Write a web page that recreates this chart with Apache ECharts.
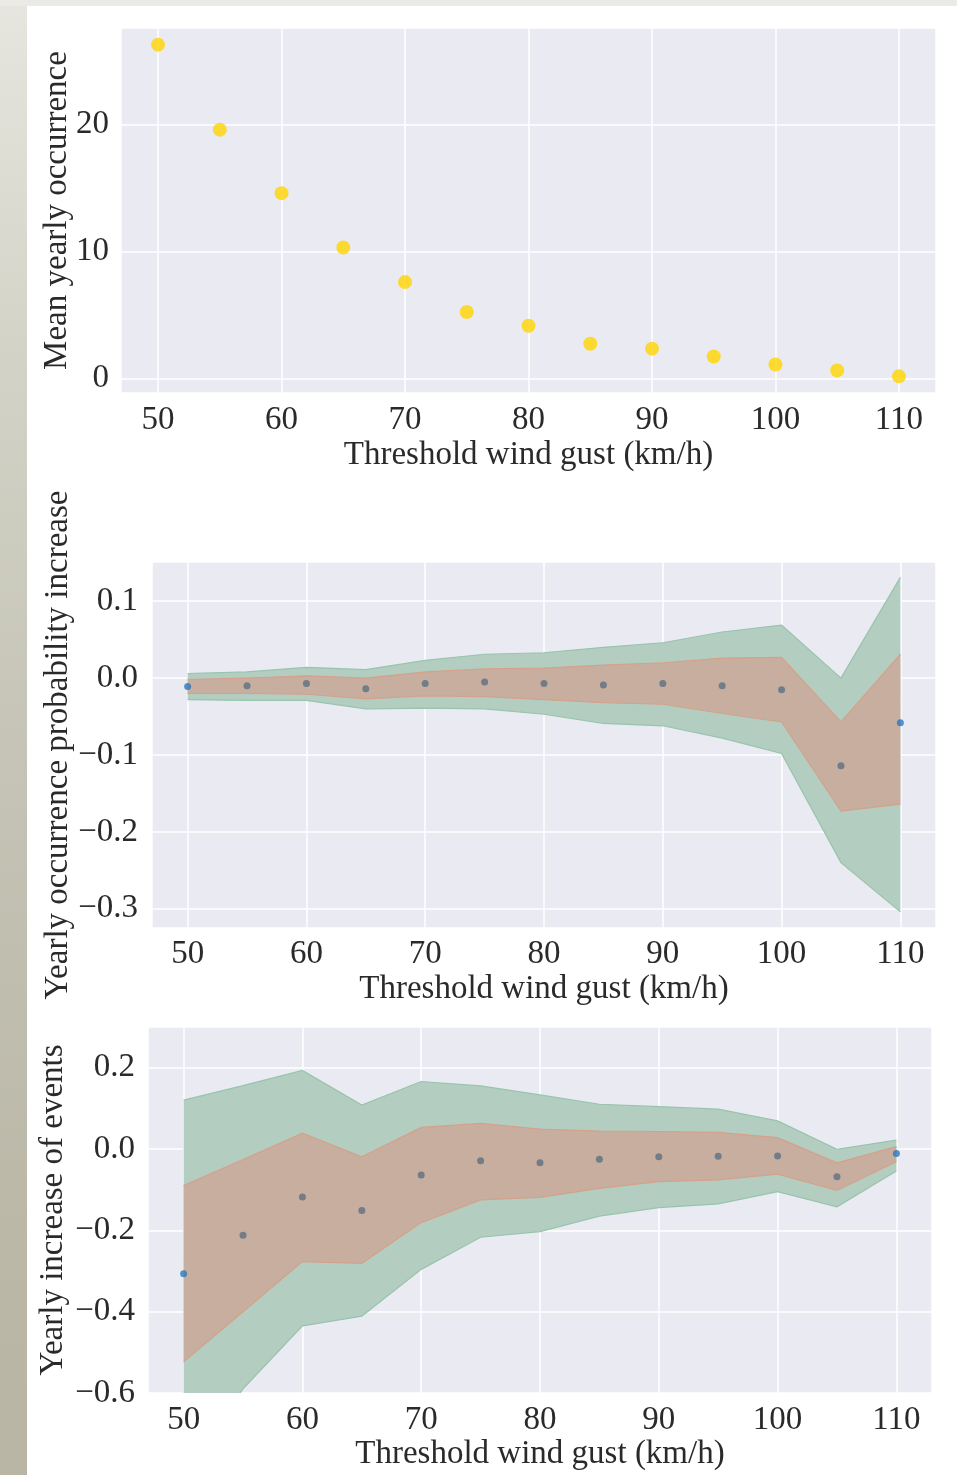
<!DOCTYPE html>
<html>
<head>
<meta charset="utf-8">
<script src="https://cdn.jsdelivr.net/npm/echarts@6/dist/echarts.min.js"></script>
<style>
  html, body { margin: 0; padding: 0; }
  body {
    width: 957px; height: 1475px; position: relative; overflow: hidden;
    background: linear-gradient(180deg, #e6e6df 0%, #d2d2c6 25%, #c3c2b4 55%, #bcb9a9 80%, #b9b5a4 100%);
  }
  #topstrip { position: absolute; left: 0; top: 0; width: 957px; height: 6px; background: #ebebe5; }
  #card { position: absolute; left: 27px; top: 6px; width: 930px; height: 1469px; background: #ffffff; }
  #chart { position: absolute; left: 0; top: 0; width: 957px; height: 1475px; }
</style>
</head>
<body>
<div id="topstrip"></div>
<div id="card"></div>
<div id="chart"></div>
<script>
// ---------- data ----------
const thresholds = [50, 55, 60, 65, 70, 75, 80, 85, 90, 95, 100, 105, 110];

const meanOccurrence = [26.27, 19.58, 14.58, 10.3, 7.58, 5.23, 4.14, 2.73, 2.34, 1.72, 1.09, 0.63, 0.16];

const probMedian     = [-0.011, -0.010, -0.007, -0.014, -0.007, -0.005, -0.007, -0.009, -0.007, -0.010, -0.015, -0.114, -0.058];
const probOuterUpper = [0.006, 0.008, 0.014, 0.011, 0.023, 0.031, 0.033, 0.040, 0.046, 0.060, 0.069, 0.000, 0.131];
const probInnerUpper = [-0.002, 0.000, 0.003, 0.000, 0.008, 0.012, 0.013, 0.017, 0.020, 0.026, 0.027, -0.057, 0.031];
const probInnerLower = [-0.020, -0.020, -0.021, -0.027, -0.023, -0.024, -0.028, -0.032, -0.034, -0.046, -0.057, -0.173, -0.164];
const probOuterLower = [-0.028, -0.029, -0.029, -0.040, -0.039, -0.040, -0.047, -0.059, -0.062, -0.078, -0.098, -0.240, -0.304];

const eventsMedian     = [-0.307, -0.212, -0.118, -0.151, -0.064, -0.029, -0.034, -0.025, -0.019, -0.018, -0.017, -0.068, -0.011];
const eventsOuterUpper = [0.120, 0.156, 0.193, 0.108, 0.166, 0.155, 0.133, 0.110, 0.104, 0.098, 0.069, -0.001, 0.022];
const eventsInnerUpper = [-0.090, -0.026, 0.039, -0.019, 0.053, 0.063, 0.049, 0.044, 0.043, 0.041, 0.028, -0.034, 0.006];
const eventsInnerLower = [-0.523, -0.400, -0.277, -0.281, -0.181, -0.125, -0.119, -0.097, -0.080, -0.076, -0.062, -0.102, -0.031];
const eventsOuterLower = [-0.800, -0.590, -0.435, -0.411, -0.296, -0.217, -0.203, -0.165, -0.144, -0.135, -0.105, -0.142, -0.054];

const xTitle = 'Threshold wind gust (km/h)';
const yTitles = ['Mean yearly occurrence', 'Yearly occurrence probability increase', 'Yearly increase of events'];

// ---------- styles ----------
const FONT = '"Liberation Serif", "DejaVu Serif", serif';
const TXT = '#2a2a2a';
const FS = 33;
const PLOT_BG = '#eaeaf2';
const GREEN_FILL = '#b3cec1';
const GREEN_EDGE = '#97c4ab';
const ORANGE_FILL = '#c8ae9f';
const ORANGE_EDGE = '#d5a18a';
const DOT_GRAY = '#5d7181';
const DOT_BLUE = '#2b78bd';

function fmtDec(v) {
  const s = Math.abs(v) < 1e-9 ? '0.0' : v.toFixed(1);
  return s.replace('-', '\u2212');
}

const grids = [
  { left: 121, top: 28, width: 815, height: 365 },
  { left: 152, top: 562, width: 784, height: 366 },
  { left: 148, top: 1027, width: 784, height: 366 }
].map(g => Object.assign({ show: true, backgroundColor: PLOT_BG, borderWidth: 0, containLabel: false }, g));

function xAxis(i, margin, nameGap) {
  return {
    type: 'value', gridIndex: i, min: 47, max: 113, minInterval: 10, maxInterval: 10,
    name: xTitle, nameLocation: 'middle', nameGap: nameGap, nameMoveOverlap: false,
    nameTextStyle: { fontFamily: FONT, fontSize: FS, color: TXT },
    axisLine: { show: false }, axisTick: { show: false },
    axisLabel: { fontFamily: FONT, fontSize: FS, color: TXT, margin: margin, showMinLabel: false, showMaxLabel: false },
    splitLine: { show: true, lineStyle: { color: '#ffffff', width: 1.5 } }
  };
}
function yAxis(i, opts) {
  return Object.assign({
    type: 'value', gridIndex: i,
    name: yTitles[i], nameLocation: 'middle', nameRotate: 90, nameMoveOverlap: false,
    nameTextStyle: { fontFamily: FONT, fontSize: FS, color: TXT },
    axisLine: { show: false }, axisTick: { show: false },
    splitLine: { show: true, lineStyle: { color: '#ffffff', width: 1.5 } }
  }, opts);
}
function yLabel(margin, showMin, fmt) {
  const o = { fontFamily: FONT, fontSize: FS, color: TXT, margin: margin, padding: [6, 0, 0, 0],
    showMinLabel: showMin, showMaxLabel: false };
  if (fmt) o.formatter = fmt;
  return o;
}

const xAxes = [xAxis(0, 11, 46), xAxis(1, 10, 45), xAxis(2, 11, 45)];
const yAxes = [
  yAxis(0, { min: -1.15, max: 27.58, minInterval: 10, maxInterval: 10, nameGap: 47, axisLabel: yLabel(12, false) }),
  yAxis(1, { min: -0.325, max: 0.151, minInterval: 0.1, maxInterval: 0.1, nameGap: 77, axisLabel: yLabel(14, false, fmtDec) }),
  yAxis(2, { min: -0.6, max: 0.3, minInterval: 0.2, maxInterval: 0.2, nameGap: 78, axisLabel: yLabel(13, true, fmtDec) })
];

// band drawn as one polygon through the axis scales (api.coord), clipped to the grid
function band(gi, lower, upper, fill, edge, z) {
  return {
    type: 'custom', xAxisIndex: gi, yAxisIndex: gi, z: z, silent: true,
    data: thresholds.map((x, k) => [x, lower[k], upper[k]]),
    renderItem: function (params, api) {
      if (params.dataIndex !== 0) return null;
      const up = thresholds.map((x, k) => api.coord([x, upper[k]]));
      const lo = thresholds.map((x, k) => api.coord([x, lower[k]]));
      const poly = up.concat(lo.slice().reverse());
      const cs = params.coordSys;
      return {
        type: 'group',
        clipPath: { type: 'rect', shape: { x: cs.x, y: cs.y, width: cs.width, height: cs.height } },
        children: [
          { type: 'polygon', shape: { points: poly }, style: { fill: fill, stroke: null } },
          { type: 'polyline', shape: { points: up }, style: { fill: null, stroke: edge, lineWidth: 1.2 } },
          { type: 'polyline', shape: { points: lo }, style: { fill: null, stroke: edge, lineWidth: 1.2 } }
        ]
      };
    }
  };
}

function dots(gi, vals) {
  const last = vals.length - 1;
  return {
    type: 'scatter', xAxisIndex: gi, yAxisIndex: gi, symbolSize: 7, z: 10,
    data: thresholds.map((x, k) => ({
      value: [x, vals[k]],
      itemStyle: { color: (k === 0 || k === last) ? DOT_BLUE : DOT_GRAY }
    }))
  };
}

const series = [
  {
    type: 'scatter', xAxisIndex: 0, yAxisIndex: 0, symbolSize: 14,
    itemStyle: { color: '#ffd500' },
    data: thresholds.map((x, k) => [x, meanOccurrence[k]])
  },
  band(1, probOuterLower, probOuterUpper, GREEN_FILL, GREEN_EDGE, 2),
  band(1, probInnerLower, probInnerUpper, ORANGE_FILL, ORANGE_EDGE, 3),
  dots(1, probMedian),
  band(2, eventsOuterLower, eventsOuterUpper, GREEN_FILL, GREEN_EDGE, 2),
  band(2, eventsInnerLower, eventsInnerUpper, ORANGE_FILL, ORANGE_EDGE, 3),
  dots(2, eventsMedian)
];

const chart = echarts.init(document.getElementById('chart'), null, { renderer: 'canvas' });
chart.setOption({
  animation: false,
  backgroundColor: 'transparent',
  grid: grids,
  xAxis: xAxes,
  yAxis: yAxes,
  series: series
});
</script>
</body>
</html>
